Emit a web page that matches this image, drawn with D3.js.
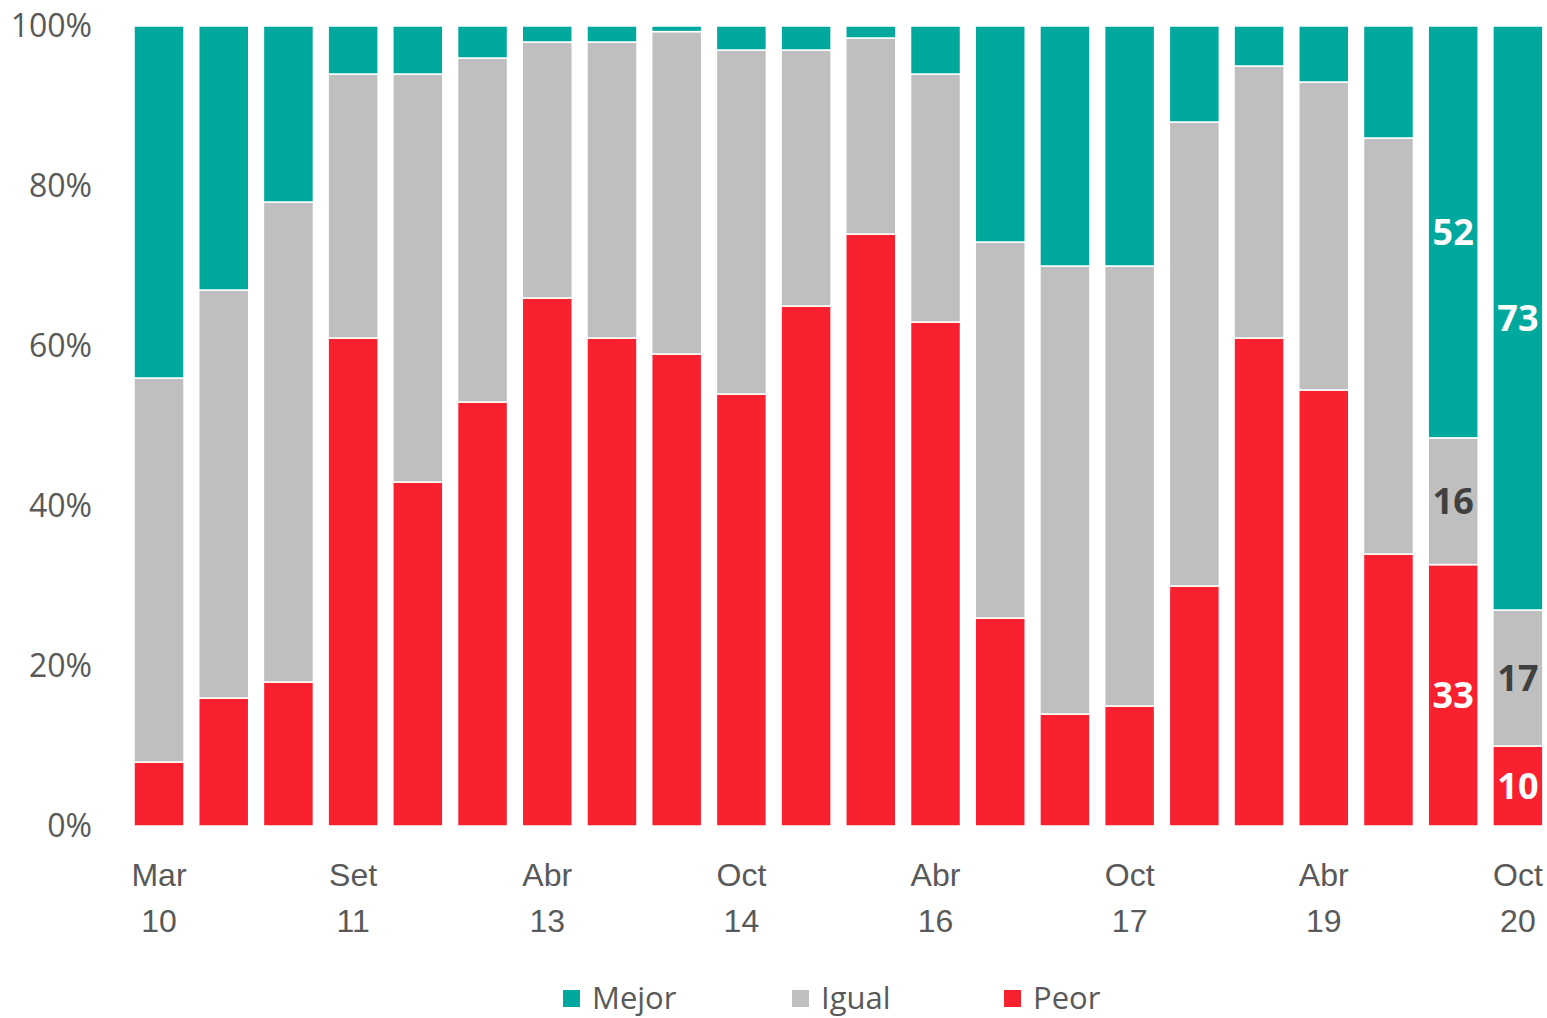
<!DOCTYPE html>
<html>
<head>
<meta charset="utf-8">
<script src="https://cdn.jsdelivr.net/npm/d3@7"></script>
<style>
  html, body { margin: 0; padding: 0; background: #fff; }
  svg { display: block; font-family: "Open Sans", "DejaVu Sans", sans-serif; }
</style>
</head>
<body>
<svg id="chart"></svg>
<script>
// periods, one bar each (semi-annual survey)
const periods = ['Mar 10', 'Set 10', 'Mar 11', 'Set 11', 'Mar 12', 'Oct 12', 'Abr 13', 'Oct 13',
  'Abr 14', 'Oct 14', 'Abr 15', 'Oct 15', 'Abr 16', 'Oct 16', 'Abr 17', 'Oct 17',
  'Abr 18', 'Oct 18', 'Abr 19', 'Oct 19', 'Abr 20', 'Oct 20'];
// only every third period gets a label
const tickPeriods = ['Mar 10', 'Set 11', 'Abr 13', 'Oct 14', 'Abr 16', 'Oct 17', 'Abr 19', 'Oct 20'];

const peor  = [8, 16, 18, 61, 43, 53, 66, 61, 59, 54, 65, 74, 63, 26, 14, 15, 30, 61, 54.5, 34, 33, 10];
const igual = [48, 51, 60, 33, 51, 43, 32, 37, 40.3, 43, 32, 24.5, 31, 47, 56, 55, 58, 34, 38.5, 52, 16, 17];
const mejor = [44, 33, 22, 6, 6, 4, 2, 2, 0.7, 3, 3, 1.5, 6, 27, 30, 30, 12, 5, 7, 14, 52, 73];

// bars that show their numbers
const labelledPeriods = ['Abr 20', 'Oct 20'];

const seriesKeys = ['Peor', 'Igual', 'Mejor'];
const colors = { Peor: '#F9212F', Igual: '#BFBFBF', Mejor: '#00A89D' };
const labelColors = { Peor: '#ffffff', Igual: '#404040', Mejor: '#ffffff' };

const rows = periods.map((p, i) => ({ period: p, Peor: peor[i], Igual: igual[i], Mejor: mejor[i] }));

const width = 1547;
const height = 1018;

const svg = d3.select('#chart')
    .attr('width', width)
    .attr('height', height);

const x = d3.scaleBand()
    .domain(periods)
    .range([119.3, 1557.6])
    .padding(0.2273);

const y = d3.scaleLinear()
    .domain([0, 1])
    .range([826, 26]);

const stack = d3.stack()
    .keys(seriesKeys)
    .offset(d3.stackOffsetExpand);
const stacked = stack(rows);

// bars
const layers = svg.append('g')
    .selectAll('g')
    .data(stacked)
    .join('g')
    .attr('fill', d => colors[d.key]);

layers.selectAll('rect')
    .data(d => d)
    .join('rect')
    .attr('x', d => x(d.data.period))
    .attr('width', x.bandwidth())
    .attr('y', d => y(d[1]))
    .attr('height', d => y(d[0]) - y(d[1]))
    .attr('stroke', '#fff')
    .attr('stroke-width', 1.5);

// data labels on the last two bars
layers.each(function(layer) {
    d3.select(this).selectAll('text')
        .data(layer.filter(d => labelledPeriods.includes(d.data.period)))
        .join('text')
        .attr('x', d => x(d.data.period) + x.bandwidth() / 2)
        .attr('y', d => (y(d[0]) + y(d[1])) / 2)
        .attr('dy', '0.36em')
        .attr('text-anchor', 'middle')
        .attr('font-size', 36)
        .attr('font-weight', 'bold')
        .attr('fill', labelColors[layer.key])
        .text(d => d.data[layer.key]);
});

// y axis
const yAxis = d3.axisLeft(y)
    .tickValues([0, 0.2, 0.4, 0.6, 0.8, 1])
    .tickFormat(d3.format('.0%'))
    .tickSize(0)
    .tickPadding(0);

const yG = svg.append('g')
    .attr('transform', 'translate(92,0)')
    .call(yAxis);
yG.select('.domain').remove();
yG.selectAll('text')
    .attr('font-size', 32)
    .attr('font-family', '"Open Sans", sans-serif')
    .attr('fill', '#595959');

// x axis, two-line labels
const xAxis = d3.axisBottom(x)
    .tickValues(tickPeriods)
    .tickSize(0)
    .tickFormat('');

const xG = svg.append('g')
    .attr('transform', 'translate(0,826)')
    .call(xAxis);
xG.select('.domain').remove();
xG.selectAll('.tick').each(function(p) {
    const parts = p.split(' ');
    const t = d3.select(this).append('text')
        .attr('text-anchor', 'middle')
        .attr('font-size', 32)
        .attr('fill', '#595959');
    t.append('tspan').attr('x', 0).attr('y', 60).text(parts[0]);
    t.append('tspan').attr('x', 0).attr('y', 106).text(parts[1]);
});

// legend
const legendItems = [
    { key: 'Mejor', x: 563 },
    { key: 'Igual', x: 792 },
    { key: 'Peor', x: 1004 }
];
const legend = svg.append('g').attr('class', 'legend');
const li = legend.selectAll('g')
    .data(legendItems)
    .join('g')
    .attr('transform', d => `translate(${d.x},990)`);
li.append('rect')
    .attr('width', 17)
    .attr('height', 17)
    .attr('fill', d => colors[d.key]);
li.append('text')
    .attr('x', 29)
    .attr('y', 19)
    .attr('font-size', 31)
    .attr('fill', '#595959')
    .text(d => d.key);
</script>
</body>
</html>
